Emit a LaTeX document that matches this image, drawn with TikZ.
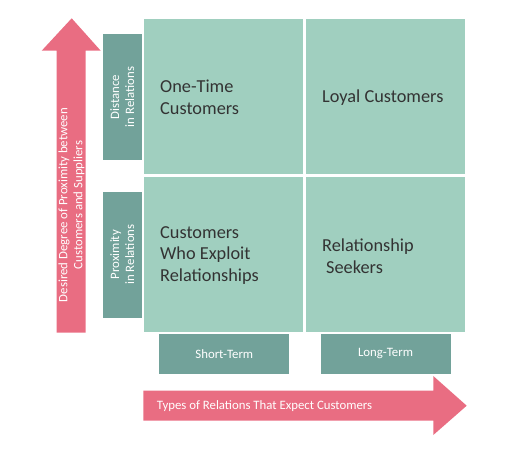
\documentclass[tikz,border=0pt]{standalone}
\usepackage{fontspec}
\setmainfont{Carlito}
\usepackage{xcolor}
\usepackage{tikz}
\usetikzlibrary{positioning}
\definecolor{cellgreen}{HTML}{A0CFBF}
\definecolor{labelteal}{HTML}{72A29A}
\definecolor{arrowpink}{HTML}{E96D82}
\definecolor{celltext}{HTML}{333333}

\begin{document}
\begin{tikzpicture}[
    x=1pt, y=-1pt,
    cell/.style={rectangle, fill=cellgreen, minimum width=159pt, minimum height=155pt, inner sep=0pt},
    cell text/.style={anchor=west, align=left, inner sep=0pt, text=celltext, font=\fontsize{18.3}{21.5}\selectfont},
    side label/.style={rectangle, fill=labelteal, minimum width=38.7pt, minimum height=126pt, inner sep=0pt},
    term label/.style={rectangle, fill=labelteal, minimum width=130pt, minimum height=39.7pt, inner sep=0pt},
    small text/.style={text=white, align=center, inner sep=0pt, font=\fontsize{12.8}{15}\selectfont}
]
\useasboundingbox (0,0) rectangle (508,453);

% arrows
\fill[arrowpink] (56.7,332.7) -- (56.7,50.7) -- (41.7,50.7) -- (71.7,18.3)
    -- (100.7,50.7) -- (85.5,50.7) -- (85.5,332.7) -- cycle;
\fill[arrowpink] (143.3,390.7) -- (433.3,390.7) -- (433.3,376) -- (466.7,405.7)
    -- (433.3,435) -- (433.3,420.7) -- (143.3,420.7) -- cycle;

\node[small text, rotate=90] (proximity) at (71.5,205) {Desired Degree of Proximity between\\Customers and Suppliers};
\node[small text, anchor=west] (types) at (156.7,406) {Types of Relations That Expect Customers};

% matrix cells
\node[cell] (onetime) at (223.8,96.7) {};
\node[cell] (loyal) at (385.5,96.7) {};
\node[cell] (exploit) at (223.8,254.2) {};
\node[cell] (seekers) at (385.5,254.2) {};

\node[cell text] at (160,97.5) {One-Time\\Customers};
\node[cell text] at (322,97.5) {Loyal Customers};
\node[cell text] at (160,255.5) {Customers\\Who Exploit\\Relationships};
\node[cell text] at (322,256) {Relationship\\\hspace{4pt}Seekers};

% labels
\node[side label] (distance) at (122.3,97) {};
\node[small text, rotate=90] at (distance.center) {Distance\\in Relations};
\node[side label] (closeness) at (122.3,254.5) {};
\node[small text, rotate=90] at (closeness.center) {Proximity\\in Relations};

\node[term label] (short) at (224.3,353.8) {};
\node[small text] at (short.center) {Short-Term};
\node[term label] (long) at (385.5,353.8) {};
\node[small text] at (long.center) {Long-Term};

\end{tikzpicture}
\end{document}
